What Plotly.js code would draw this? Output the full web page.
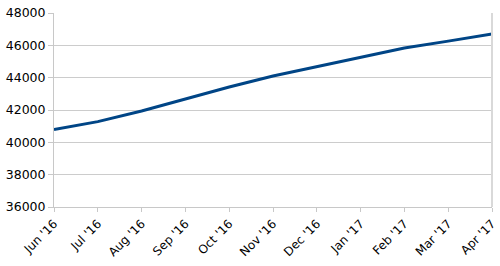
<!DOCTYPE html>
<html>
<head>
<meta charset="utf-8">
<script src="https://cdn.plot.ly/plotly-3.0.1.min.js"></script>
<style>html,body{margin:0;padding:0;background:#fff;}#chart{width:500px;height:266px;}</style>
</head>
<body>
<div id="chart"></div>
<script>
var months = ["Jun '16","Jul '16","Aug '16","Sep '16","Oct '16","Nov '16","Dec '16","Jan '17","Feb '17","Mar '17","Apr '17"];
var values = [40800, 41280, 41940, 42700, 43420, 44100, 44680, 45280, 45830, 46260, 46700];
var yTicks = [36000, 38000, 40000, 42000, 44000, 46000, 48000];

var trace = {
  x: months,
  y: values,
  type: 'scatter',
  mode: 'lines',
  line: {color: '#004586', width: 3},
  hoverinfo: 'skip'
};

var layout = {
  width: 500,
  height: 266,
  margin: {l: 54, r: 8, t: 13, b: 59},
  paper_bgcolor: '#ffffff',
  plot_bgcolor: '#ffffff',
  showlegend: false,
  font: {family: 'DejaVu Sans', size: 12, color: '#000000'},
  xaxis: {
    type: 'category',
    range: [0, months.length - 1],
    tickangle: -45,
    showgrid: false,
    showline: true,
    linecolor: '#c8c8c8',
    linewidth: 1,
    ticks: 'outside',
    ticklen: 4,
    tickcolor: '#c8c8c8',
    zeroline: false,
    tickfont: {family: 'DejaVu Sans', size: 12, color: '#000000'}
  },
  yaxis: {
    range: [36000, 48000],
    tickvals: yTicks,
    ticktext: yTicks.map(String),
    showgrid: true,
    gridcolor: '#cccccc',
    gridwidth: 1,
    showline: true,
    linecolor: '#c8c8c8',
    linewidth: 1,
    ticks: 'outside',
    ticklen: 5,
    tickcolor: '#c8c8c8',
    zeroline: false,
    tickfont: {family: 'DejaVu Sans', size: 12.5, color: '#000000'}
  },
  shapes: [{
    type: 'line', xref: 'paper', yref: 'paper',
    x0: 1, x1: 1, y0: 0, y1: 1,
    line: {color: '#d9d9d9', width: 2}
  }]
};

Plotly.newPlot('chart', [trace], layout, {staticPlot: true, displayModeBar: false});
</script>
</body>
</html>
